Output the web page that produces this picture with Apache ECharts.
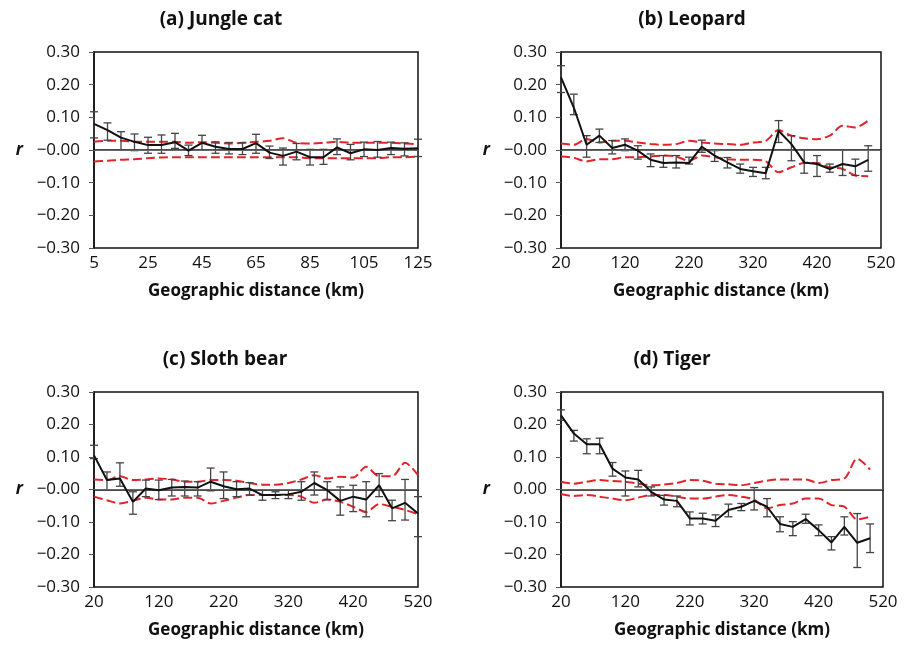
<!DOCTYPE html>
<html>
<head>
<meta charset="utf-8">
<script src="https://cdn.jsdelivr.net/npm/echarts@6/dist/echarts.min.js"></script>
<style>
  html, body { margin: 0; padding: 0; background: #fff; }
  #main { width: 911px; height: 646px; }
</style>
</head>
<body>
<div id="main"></div>
<script>
// (a) Jungle cat
var distA = [5, 10, 15, 20, 25, 30, 35, 40, 45, 50, 55, 60, 65, 70, 75, 80, 85, 90, 95, 100, 105, 110, 115, 120, 125];
var rA = [0.080, 0.061, 0.038, 0.025, 0.015, 0.015, 0.024, -0.002, 0.022, 0.010, 0.003, 0.003, 0.021, -0.008, -0.018, -0.005, -0.022, -0.022, 0.008, -0.010, 0.002, 0.000, 0.006, 0.004, 0.005];
var hiA = [0.117, 0.083, 0.056, 0.049, 0.039, 0.046, 0.051, 0.015, 0.045, 0.025, 0.023, 0.022, 0.048, 0.012, 0.006, 0.020, 0.002, 0.002, 0.034, 0.017, 0.024, 0.026, 0.024, 0.022, 0.033];
var loA = [0.037, 0.030, 0.000, -0.002, -0.010, -0.010, 0.005, -0.017, 0.000, -0.010, -0.012, -0.014, -0.010, -0.026, -0.046, -0.030, -0.046, -0.044, -0.014, -0.030, -0.020, -0.022, -0.014, -0.018, -0.020];
var upA = [0.025, 0.028, 0.028, 0.025, 0.025, 0.025, 0.025, 0.022, 0.024, 0.022, 0.020, 0.022, 0.025, 0.028, 0.036, 0.022, 0.020, 0.022, 0.025, 0.022, 0.022, 0.022, 0.022, 0.020, 0.018];
var dnA = [-0.035, -0.033, -0.030, -0.028, -0.025, -0.023, -0.022, -0.022, -0.022, -0.022, -0.022, -0.022, -0.022, -0.022, -0.022, -0.022, -0.025, -0.025, -0.025, -0.025, -0.025, -0.025, -0.022, -0.022, -0.020];

// (b) Leopard
var distB = [20, 40, 60, 80, 100, 120, 140, 160, 180, 200, 220, 240, 260, 280, 300, 320, 340, 360, 380, 400, 420, 440, 460, 480, 500];
var rB = [0.222, 0.130, 0.016, 0.044, 0.006, 0.016, -0.002, -0.030, -0.040, -0.038, -0.040, 0.010, -0.017, -0.038, -0.058, -0.065, -0.071, 0.059, 0.018, -0.038, -0.043, -0.058, -0.043, -0.050, -0.030];
var hiB = [0.258, 0.171, 0.044, 0.064, 0.029, 0.034, 0.013, -0.012, -0.017, -0.017, -0.022, 0.030, -0.002, -0.023, -0.043, -0.053, -0.053, 0.090, 0.044, 0.000, -0.017, -0.043, 0.000, -0.028, 0.013];
var loB = [0.176, 0.108, -0.022, 0.023, -0.012, -0.002, -0.028, -0.051, -0.053, -0.055, -0.043, -0.007, -0.035, -0.055, -0.071, -0.081, -0.088, 0.023, -0.033, -0.071, -0.081, -0.068, -0.078, -0.078, -0.065];
var upB = [0.020, 0.016, 0.034, 0.023, 0.028, 0.028, 0.023, 0.018, 0.016, 0.018, 0.028, 0.023, 0.020, 0.018, 0.016, 0.023, 0.028, 0.061, 0.044, 0.036, 0.033, 0.044, 0.074, 0.069, 0.090];
var dnB = [-0.020, -0.024, -0.035, -0.028, -0.028, -0.022, -0.022, -0.020, -0.017, -0.020, -0.033, -0.017, -0.022, -0.028, -0.030, -0.030, -0.035, -0.068, -0.053, -0.040, -0.040, -0.053, -0.058, -0.078, -0.080];

// (c) Sloth bear
var distC = [20, 40, 60, 80, 100, 120, 140, 160, 180, 200, 220, 240, 260, 280, 300, 320, 340, 360, 380, 400, 420, 440, 460, 480, 500, 520];
var rC = [0.105, 0.029, 0.034, -0.038, 0.003, -0.002, 0.006, 0.008, 0.006, 0.024, 0.010, 0.001, 0.003, -0.017, -0.017, -0.015, -0.007, 0.020, -0.002, -0.035, -0.022, -0.031, 0.013, -0.058, -0.041, -0.074];
var hiC = [0.136, 0.054, 0.082, -0.007, 0.029, 0.029, 0.031, 0.026, 0.024, 0.066, 0.054, 0.024, 0.021, -0.002, -0.007, -0.002, 0.024, 0.054, 0.024, 0.008, 0.013, 0.024, 0.049, -0.033, 0.031, -0.022];
var loC = [0.095, -0.002, 0.010, -0.076, -0.022, -0.031, -0.020, -0.020, -0.020, -0.004, -0.028, -0.022, -0.017, -0.033, -0.028, -0.028, -0.033, -0.017, -0.031, -0.079, -0.068, -0.084, -0.022, -0.096, -0.094, -0.145];
var upC = [0.031, 0.029, 0.041, 0.029, 0.031, 0.034, 0.031, 0.024, 0.024, 0.029, 0.029, 0.027, 0.020, 0.015, 0.015, 0.020, 0.031, 0.044, 0.034, 0.039, 0.037, 0.070, 0.041, 0.041, 0.082, 0.044];
var dnC = [-0.022, -0.033, -0.043, -0.035, -0.025, -0.031, -0.031, -0.025, -0.025, -0.043, -0.035, -0.025, -0.017, -0.017, -0.017, -0.017, -0.022, -0.041, -0.031, -0.038, -0.053, -0.069, -0.045, -0.053, -0.063, -0.076];

// (d) Tiger
var distD = [20, 40, 60, 80, 100, 120, 140, 160, 180, 200, 220, 240, 260, 280, 300, 320, 340, 360, 380, 400, 420, 440, 460, 480, 500];
var rD = [0.228, 0.172, 0.139, 0.139, 0.064, 0.037, 0.031, -0.007, -0.031, -0.035, -0.089, -0.089, -0.096, -0.063, -0.053, -0.035, -0.053, -0.106, -0.115, -0.091, -0.125, -0.163, -0.115, -0.164, -0.150];
var hiD = [0.245, 0.182, 0.156, 0.158, 0.083, 0.057, 0.059, 0.008, -0.018, -0.020, -0.069, -0.073, -0.078, -0.045, -0.043, 0.006, -0.028, -0.084, -0.099, -0.076, -0.109, -0.145, -0.084, -0.074, -0.106];
var loD = [0.213, 0.149, 0.110, 0.110, 0.041, -0.020, 0.008, -0.020, -0.048, -0.053, -0.109, -0.106, -0.114, -0.084, -0.065, -0.063, -0.084, -0.130, -0.142, -0.104, -0.142, -0.186, -0.140, -0.240, -0.194];
var upD = [0.024, 0.018, 0.024, 0.029, 0.026, 0.024, 0.018, 0.013, 0.015, 0.020, 0.029, 0.027, 0.018, 0.016, 0.013, 0.020, 0.027, 0.031, 0.031, 0.031, 0.020, 0.029, 0.034, 0.095, 0.061];
var dnD = [-0.014, -0.020, -0.017, -0.022, -0.028, -0.033, -0.025, -0.017, -0.017, -0.022, -0.028, -0.028, -0.022, -0.017, -0.022, -0.031, -0.058, -0.048, -0.043, -0.028, -0.028, -0.048, -0.053, -0.092, -0.084];

var xTicksA = [5, 25, 45, 65, 85, 105, 125];
var xTicksB = [20, 120, 220, 320, 420, 520];

var panels = [
  { title: '(a) Jungle cat', dist: distA, r: rA, hi: hiA, lo: loA, up: upA, dn: dnA, xmin: 5, xmax: 125, ticks: xTicksA, negZero: true,
    grid: { left: 94, top: 52, width: 324, height: 196 }, tx: 221, ty: 20 },
  { title: '(b) Leopard', dist: distB, r: rB, hi: hiB, lo: loB, up: upB, dn: dnB, xmin: 20, xmax: 520, ticks: xTicksB, negZero: true,
    grid: { left: 561, top: 52, width: 320, height: 196 }, tx: 692, ty: 20 },
  { title: '(c) Sloth bear', dist: distC, r: rC, hi: hiC, lo: loC, up: upC, dn: dnC, xmin: 20, xmax: 520, ticks: xTicksB, negZero: true,
    grid: { left: 94, top: 392, width: 324, height: 195 }, tx: 225, ty: 360 },
  { title: '(d) Tiger', dist: distD, r: rD, hi: hiD, lo: loD, up: upD, dn: dnD, xmin: 20, xmax: 520, ticks: xTicksB, negZero: false,
    grid: { left: 561, top: 392, width: 322, height: 195 }, tx: 672, ty: 360 }
];

var font = "'Open Sans', 'Liberation Sans', sans-serif";
var myChart = echarts.init(document.getElementById('main'));

var grids = [], xAxes = [], yAxes = [], series = [], graphics = [];

panels.forEach(function (p, i) {
  grids.push(Object.assign({ show: true, borderColor: '#111', borderWidth: 1.5, backgroundColor: '#fff' }, p.grid));

  xAxes.push({
    gridIndex: i, type: 'value', min: p.xmin, max: p.xmax,
    name: 'Geographic distance (km)', nameLocation: 'middle', nameGap: 35,
    nameTextStyle: { fontFamily: font, fontWeight: 'bold', fontSize: 17, color: '#111' },
    axisLine: { show: true, lineStyle: { color: '#111', width: 1.5 } },
    axisTick: { show: false },
    splitLine: { show: false },
    axisLabel: { customValues: p.ticks, fontFamily: font, fontSize: 17, color: '#111', margin: 7, showMinLabel: true, showMaxLabel: true }
  });

  yAxes.push({
    gridIndex: i, type: 'value', min: -0.3, max: 0.3, interval: 0.1,
    name: 'r', nameLocation: 'middle', nameGap: 71, nameRotate: 0, nameMoveOverlap: false,
    nameTextStyle: { fontFamily: font, fontWeight: 'bold', fontStyle: 'italic', fontSize: 17, color: '#111' },
    axisLine: { show: true, lineStyle: { color: '#111', width: 1.5 } },
    axisTick: { show: true, length: 5, lineStyle: { color: '#555' } },
    splitLine: { show: false },
    axisLabel: {
      fontFamily: font, fontSize: 17, color: '#111', margin: 14,
      formatter: function (v) {
        v = Math.round(v * 100) / 100;
        if (v < 0 || (v === 0 && p.negZero)) return '\u2212' + Math.abs(v).toFixed(2);
        return v.toFixed(2);
      }
    }
  });

  var lineData = p.dist.map(function (d, k) { return [d, p.r[k]]; });
  var upData = p.dist.map(function (d, k) { return [d, p.up[k]]; });
  var dnData = p.dist.map(function (d, k) { return [d, p.dn[k]]; });
  var errData = p.dist.map(function (d, k) { return [d, p.lo[k], p.hi[k]]; });

  // upper / lower envelope
  [upData, dnData].forEach(function (dd) {
    series.push({
      type: 'line', xAxisIndex: i, yAxisIndex: i, data: dd, smooth: 0.3,
      symbol: 'none', silent: true, z: 3,
      lineStyle: { color: '#e2232a', width: 2, type: [9, 4] }
    });
  });

  // error bars
  series.push({
    type: 'custom', xAxisIndex: i, yAxisIndex: i, data: errData, z: 4, silent: true,
    renderItem: function (params, api) {
      var x = api.value(0);
      var top = api.coord([x, api.value(2)]);
      var bot = api.coord([x, api.value(1)]);
      var w = 4;
      var st = { stroke: '#444', lineWidth: 1.3 };
      return {
        type: 'group',
        children: [
          { type: 'line', shape: { x1: top[0], y1: top[1], x2: bot[0], y2: bot[1] }, style: st },
          { type: 'line', shape: { x1: top[0] - w, y1: top[1], x2: top[0] + w, y2: top[1] }, style: st },
          { type: 'line', shape: { x1: bot[0] - w, y1: bot[1], x2: bot[0] + w, y2: bot[1] }, style: st }
        ]
      };
    }
  });

  // mean correlation line
  series.push({
    type: 'line', xAxisIndex: i, yAxisIndex: i, data: lineData,
    symbol: 'none', z: 5, silent: true,
    lineStyle: { color: '#111', width: 2 },
    markLine: {
      silent: true, symbol: 'none', label: { show: false },
      lineStyle: { color: '#666', width: 1, type: 'solid' },
      data: [{ yAxis: 0 }]
    }
  });

  graphics.push({
    type: 'text', x: p.tx, y: p.ty,
    style: { text: p.title, fontFamily: font, fontWeight: 'bold', fontSize: 19, fill: '#111', align: 'center', verticalAlign: 'middle' }
  });
});

var option = {
  animation: false,
  backgroundColor: '#fff',
  grid: grids,
  xAxis: xAxes,
  yAxis: yAxes,
  series: series,
  graphic: graphics
};

myChart.setOption(option);
</script>
</body>
</html>
